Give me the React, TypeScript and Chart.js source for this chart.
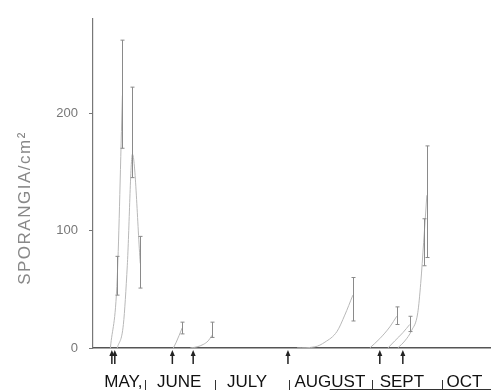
import React, { useEffect, useRef } from "react";
import { Chart, registerables } from "chart.js";

Chart.register(...registerables);

// x values are days counted from 1 May
const monthLabels = ["MAY,", "JUNE", "JULY", "AUGUST", "SEPT", "OCT"];
const monthLabelDays = [22.9, 45.7, 73.4, 107.2, 136.6, 162.2];
const monthSeparatorDays = [31.9, 60.4, 90.5, 124.3, 152.9];
const arrowDays = [18.2, 19.4, 42.9, 51.4, 90.1, 127.6, 137.0];
const yTickValues = [0, 100, 200];

const seriesADays = [17.6, 20.4, 22.5];
const seriesAValues = [0, 60, 215];
const seriesALow = [null, 45, 170];
const seriesAHigh = [null, 78, 262];

const seriesBDays = [20.4, 22.9, 24.5, 26.6, 29.8];
const seriesBValues = [0, 20, 70, 165, 72];
const seriesBLow = [null, null, null, 145, 51];
const seriesBHigh = [null, null, null, 222, 95];

const seriesCDays = [43.3, 44.5, 46.9];
const seriesCValues = [0, 5, 17];
const seriesCLow = [null, null, 12];
const seriesCHigh = [null, null, 22];

const seriesDDays = [50.2, 53.0, 55.5, 57.5, 59.2];
const seriesDValues = [0, 1, 3, 6, 11];
const seriesDLow = [null, null, null, null, 9];
const seriesDHigh = [null, null, null, null, 22];

const seriesEDays = [93.8, 101.1, 105.2, 110.1, 113.3, 116.6];
const seriesEValues = [0, 1, 5, 14, 28, 45];
const seriesELow = [null, null, null, null, null, 23];
const seriesEHigh = [null, null, null, null, null, 60];

const seriesFDays = [123.5, 127.6, 131.7, 134.5];
const seriesFValues = [0, 8, 18, 27];
const seriesFLow = [null, null, null, 20];
const seriesFHigh = [null, null, null, 35];

const seriesHDays = [130.9, 133.7, 137.0, 139.8];
const seriesHValues = [0, 6, 13, 20];
const seriesHLow = [null, null, null, 14];
const seriesHHigh = [null, null, null, 27];

const seriesGDays = [134.9, 137.8, 140.6, 143.1, 144.3, 145.5, 146.8];
const seriesGValues = [0, 6, 15, 30, 55, 90, 130];
const seriesGLow = [null, null, null, null, null, 70, 77];
const seriesGHigh = [null, null, null, null, null, 110, 172];

const allSeries = [
  [seriesADays, seriesAValues, seriesALow, seriesAHigh],
  [seriesBDays, seriesBValues, seriesBLow, seriesBHigh],
  [seriesCDays, seriesCValues, seriesCLow, seriesCHigh],
  [seriesDDays, seriesDValues, seriesDLow, seriesDHigh],
  [seriesEDays, seriesEValues, seriesELow, seriesEHigh],
  [seriesFDays, seriesFValues, seriesFLow, seriesFHigh],
  [seriesHDays, seriesHValues, seriesHLow, seriesHHigh],
  [seriesGDays, seriesGValues, seriesGLow, seriesGHigh],
];

const extrasPlugin = {
  id: "extras",
  afterDatasetsDraw(chart: any) {
    const { ctx, scales } = chart;
    const xs = scales.x;
    const ys = scales.y;
    ctx.save();
    ctx.strokeStyle = "#8a8a8a";
    ctx.lineWidth = 1;
    allSeries.forEach((s: any) => {
      const [days, , lo, hi] = s;
      days.forEach((d: number, i: number) => {
        if (lo[i] == null || hi[i] == null) return;
        const x = Math.round(xs.getPixelForValue(d)) + 0.5;
        const y1 = ys.getPixelForValue(hi[i]);
        const y2 = ys.getPixelForValue(lo[i]);
        ctx.beginPath();
        ctx.moveTo(x, y1);
        ctx.lineTo(x, y2);
        ctx.moveTo(x - 2, y1);
        ctx.lineTo(x + 2, y1);
        ctx.moveTo(x - 2, y2);
        ctx.lineTo(x + 2, y2);
        ctx.stroke();
      });
    });
    ctx.restore();
  },
  afterDraw(chart: any) {
    const { ctx, scales, chartArea } = chart;
    const xs = scales.x;
    const bottom = chartArea.bottom;
    ctx.save();
    // arrows
    ctx.strokeStyle = "#222";
    ctx.fillStyle = "#222";
    ctx.lineWidth = 1.5;
    arrowDays.forEach((d) => {
      const x = xs.getPixelForValue(d);
      ctx.beginPath();
      ctx.moveTo(x, bottom + 16);
      ctx.lineTo(x, bottom + 6);
      ctx.stroke();
      ctx.beginPath();
      ctx.moveTo(x, bottom + 2);
      ctx.lineTo(x - 2.5, bottom + 8);
      ctx.lineTo(x + 2.5, bottom + 8);
      ctx.closePath();
      ctx.fill();
    });
    // month labels
    ctx.fillStyle = "#111";
    ctx.font = "17px 'Liberation Sans', Arial, sans-serif";
    ctx.textAlign = "center";
    ctx.textBaseline = "alphabetic";
    monthLabels.forEach((m, i) => {
      ctx.fillText(m, xs.getPixelForValue(monthLabelDays[i]), 387);
    });
    // separators
    ctx.strokeStyle = "#333";
    ctx.lineWidth = 1;
    monthSeparatorDays.forEach((d) => {
      const x = Math.round(xs.getPixelForValue(d)) + 0.5;
      ctx.beginPath();
      ctx.moveTo(x, 380);
      ctx.lineTo(x, 390);
      ctx.stroke();
    });
    ctx.beginPath();
    ctx.moveTo(xs.getPixelForValue(monthSeparatorDays[3]) - 42, 389.5);
    ctx.lineTo(491, 389.5);
    ctx.stroke();
    // y title
    ctx.translate(25, 208);
    ctx.rotate(-Math.PI / 2);
    ctx.fillStyle = "#888";
    ctx.font = "17px 'Liberation Sans', Arial, sans-serif";
    try {
      (ctx as any).letterSpacing = "1.5px";
    } catch (e) {}
    ctx.textAlign = "center";
    ctx.textBaseline = "middle";
    ctx.fillText("SPORANGIA/cm²", 0, 0);
    ctx.restore();
  },
};

export default function App() {
  const ref = useRef<HTMLCanvasElement | null>(null);
  useEffect(() => {
    if (!ref.current) return;
    const datasets = allSeries.map((s: any, k: number) => ({
      label: "series" + k,
      data: s[0].map((d: number, i: number) => ({ x: d, y: s[1][i] })),
      borderColor: "#b8b8b8",
      borderWidth: 1,
      pointRadius: 0,
      cubicInterpolationMode: "monotone" as const,
      fill: false,
    }));
    const chart = new Chart(ref.current, {
      type: "line",
      data: { datasets },
      options: {
        animation: false,
        responsive: false,
        layout: { padding: { top: 19, right: 0, left: 0, bottom: 0 } },
        plugins: { legend: { display: false }, tooltip: { enabled: false } },
        scales: {
          x: {
            type: "linear",
            min: 10.5,
            max: 173,
            ticks: { display: false },
            grid: { display: false },
            border: { display: true, color: "#555", width: 1.5 },
            afterFit: (s: any) => {
              s.height = 42;
            },
          },
          y: {
            type: "linear",
            min: 0,
            max: 280,
            afterBuildTicks: (s: any) => {
              s.ticks = yTickValues.map((v) => ({ value: v }));
            },
            ticks: {
              color: "#777",
              font: { size: 13, family: "'Liberation Sans', Arial, sans-serif" },
              padding: 11,
            },
            grid: { drawOnChartArea: false, drawTicks: true, tickLength: 4, color: "#777" },
            border: { display: true, color: "#777", width: 1.2 },
            afterFit: (s: any) => {
              s.width = 93;
            },
          },
        },
      },
      plugins: [extrasPlugin],
    });
    return () => chart.destroy();
  }, []);
  return (
    <div style={{ position: "fixed", left: 0, top: 0, width: 491, height: 390, background: "#fff" }}>
      <canvas ref={ref} width={491} height={390} />
    </div>
  );
}
